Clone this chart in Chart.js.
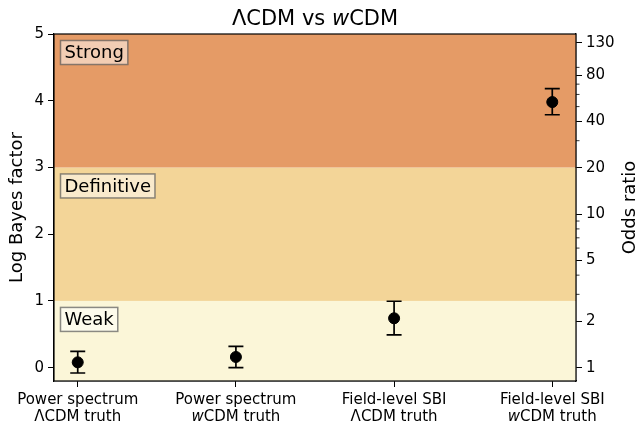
<!DOCTYPE html>
<html>
<head>
<meta charset="utf-8">
<script src="https://cdn.jsdelivr.net/npm/chart.js@4.4.1/dist/chart.umd.min.js"></script>
<style>
  html, body { margin: 0; padding: 0; background: #fff; }
  #wrap { width: 639px; height: 423px; position: relative; }
</style>
</head>
<body>
<div id="wrap"><canvas id="bayesChart"></canvas></div>
<script>
// Data
const categories = [
    [['Power spectrum'], ['ΛCDM truth']],
    [['Power spectrum'], ['*w', 'CDM truth']],
    [['Field-level SBI'], ['ΛCDM truth']],
    [['Field-level SBI'], ['*w', 'CDM truth']]
];
const logBayes = [0.08, 0.16, 0.74, 3.98];
const errLow = [-0.08, 0.00, 0.49, 3.79];
const errHigh = [0.245, 0.32, 0.995, 4.18];

const leftTicks = [0, 1, 2, 3, 4, 5];
const oddsTicks = [1, 2, 5, 10, 20, 40, 80, 130];
const oddsMinor = [3, 4, 6, 7, 8, 9, 30, 50, 60, 70, 90];

const bands = [
    { label: 'Weak', from: -0.2, to: 1, color: '#fbf6d8' },
    { label: 'Definitive', from: 1, to: 3, color: '#f3d598' },
    { label: 'Strong', from: 3, to: 5, color: '#e59b66' }
];

const FONT = "'DejaVu Sans', sans-serif";

// draw text made of pieces; a piece starting with * is italic
function drawPieces(ctx, pieces, cx, y, size) {
    const parts = pieces.map(p => {
        const it = p.startsWith('*');
        const t = it ? p.slice(1) : p;
        ctx.font = (it ? 'italic ' : '') + size + 'px ' + FONT;
        return { t: t, f: ctx.font, w: ctx.measureText(t).width };
    });
    const total = parts.reduce((s, p) => s + p.w, 0);
    let x = cx - total / 2;
    ctx.textAlign = 'left';
    parts.forEach(p => {
        ctx.font = p.f;
        ctx.fillText(p.t, x, y);
        x += p.w;
    });
}

const decorPlugin = {
    id: 'decor',
    beforeDatasetsDraw(chart) {
        const ctx = chart.ctx;
        const a = chart.chartArea;
        const y = chart.scales.y;
        const x = chart.scales.x;
        ctx.save();
        bands.forEach(b => {
            const top = y.getPixelForValue(b.to);
            const bot = y.getPixelForValue(b.from);
            ctx.fillStyle = b.color;
            ctx.fillRect(a.left, top, a.right - a.left, bot - top);
        });
        // error bars
        ctx.strokeStyle = '#000';
        ctx.lineWidth = 1.7;
        logBayes.forEach((v, i) => {
            const px = x.getPixelForValue(i);
            const lo = y.getPixelForValue(errLow[i]);
            const hi = y.getPixelForValue(errHigh[i]);
            ctx.beginPath();
            ctx.moveTo(px, lo); ctx.lineTo(px, hi);
            ctx.moveTo(px - 7.5, lo); ctx.lineTo(px + 7.5, lo);
            ctx.moveTo(px - 7.5, hi); ctx.lineTo(px + 7.5, hi);
            ctx.stroke();
        });
        ctx.restore();
    },
    afterDatasetsDraw(chart) {
        const ctx = chart.ctx;
        const a = chart.chartArea;
        const y = chart.scales.y;
        ctx.save();
        // band labels in boxes
        ctx.font = '18px ' + FONT;
        ctx.textBaseline = 'middle';
        ctx.textAlign = 'left';
        bands.forEach(b => {
            const top = y.getPixelForValue(b.to);
            const w = ctx.measureText(b.label).width + 8;
            const bx = a.left + 6.5, by = Math.max(top, a.top) + 6.5, bh = 24;
            ctx.fillStyle = 'rgba(255,255,255,0.5)';
            ctx.fillRect(bx, by, w, bh);
            ctx.strokeStyle = 'rgba(90,90,90,0.7)';
            ctx.lineWidth = 1.5;
            ctx.strokeRect(bx, by, w, bh);
            ctx.fillStyle = '#000';
            ctx.fillText(b.label, bx + 4, by + bh / 2 + 1);
        });
        // frame
        ctx.strokeStyle = '#000';
        ctx.lineWidth = 1.2;
        ctx.strokeRect(a.left, a.top, a.right - a.left, a.bottom - a.top);
        ctx.restore();
    },
    afterDraw(chart) {
        const ctx = chart.ctx;
        const a = chart.chartArea;
        const x = chart.scales.x;
        const y1 = chart.scales.y1;
        ctx.save();
        ctx.fillStyle = '#000';
        ctx.textBaseline = 'alphabetic';
        // title
        drawPieces(ctx, ['ΛCDM vs ', '*w', 'CDM'], (a.left + a.right) / 2, 25, 21);
        // category labels
        categories.forEach((lines, i) => {
            const px = x.getPixelForValue(i);
            drawPieces(ctx, lines[0], px, a.bottom + 23, 15);
            drawPieces(ctx, lines[1], px, a.bottom + 40, 15);
        });
        // right axis title, reading upwards like the left one
        ctx.save();
        ctx.translate(chart.width - 9, (a.top + a.bottom) / 2);
        ctx.rotate(-Math.PI / 2);
        ctx.font = '18px ' + FONT;
        ctx.textAlign = 'center';
        ctx.textBaseline = 'middle';
        ctx.fillText('Odds ratio', 0, 0);
        ctx.restore();
        // minor ticks of the odds axis
        ctx.strokeStyle = '#000';
        ctx.lineWidth = 0.8;
        oddsMinor.forEach(v => {
            const py = y1.getPixelForValue(Math.log(v));
            ctx.beginPath();
            ctx.moveTo(a.right, py);
            ctx.lineTo(a.right + 3.5, py);
            ctx.stroke();
        });
        ctx.restore();
    }
};

new Chart(document.getElementById('bayesChart'), {
    type: 'scatter',
    data: {
        datasets: [{
            data: logBayes.map((v, i) => ({ x: i, y: v })),
            backgroundColor: '#000',
            borderColor: '#000',
            pointRadius: 5.5,
            pointHoverRadius: 5.5
        }]
    },
    options: {
        responsive: true,
        maintainAspectRatio: false,
        animation: false,
        events: [],
        layout: { padding: { top: 34, left: 0, right: 0, bottom: 0 } },
        plugins: {
            legend: { display: false },
            tooltip: { enabled: false },
            title: { display: false }
        },
        scales: {
            x: {
                type: 'linear',
                min: -0.15,
                max: 3.15,
                afterBuildTicks: s => { s.ticks = [0, 1, 2, 3].map(v => ({ value: v })); },
                afterFit: s => { s.height = 42; },
                ticks: { display: false },
                grid: { drawOnChartArea: false, drawTicks: true, tickLength: 6, tickColor: '#000', tickWidth: 1 },
                border: { color: '#000', width: 1.2 }
            },
            y: {
                position: 'left',
                min: -0.2,
                max: 5,
                afterBuildTicks: s => { s.ticks = leftTicks.map(v => ({ value: v })); },
                afterFit: s => { s.width = 54; },
                ticks: { color: '#000', font: { family: FONT, size: 15 }, padding: 4 },
                grid: { drawOnChartArea: false, drawTicks: true, tickLength: 6, tickColor: '#000', tickWidth: 1 },
                border: { color: '#000', width: 1.2 },
                title: { display: true, text: 'Log Bayes factor', color: '#000', font: { family: FONT, size: 18, lineHeight: 1 }, padding: { top: 8, bottom: 0 } }
            },
            y1: {
                position: 'right',
                min: -0.2,
                max: 5,
                afterBuildTicks: s => { s.ticks = oddsTicks.map(v => ({ value: Math.log(v) })); },
                afterFit: s => { s.width = 63; },
                ticks: {
                    color: '#000', font: { family: FONT, size: 15 }, padding: 4,
                    callback: v => String(Math.round(Math.exp(v)))
                },
                grid: { drawOnChartArea: false, drawTicks: true, tickLength: 6, tickColor: '#000', tickWidth: 1 },
                border: { color: '#000', width: 1.2 },
                title: { display: false }
            }
        }
    },
    plugins: [decorPlugin]
});
</script>
</body>
</html>
